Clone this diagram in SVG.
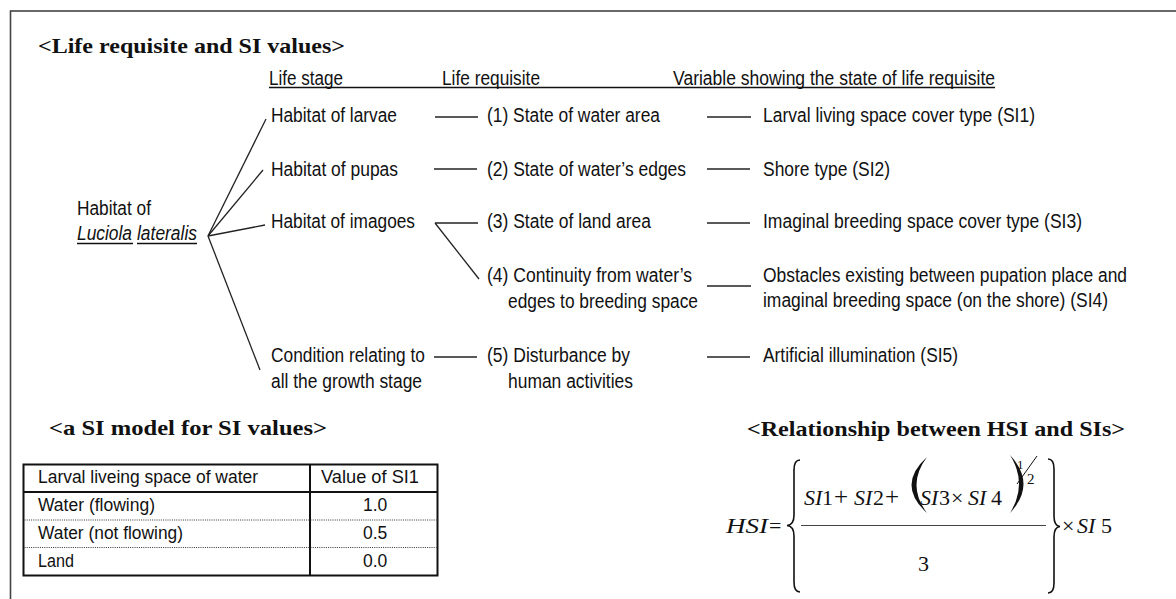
<svg xmlns="http://www.w3.org/2000/svg" width="1176" height="599" viewBox="0 0 1176 599">
<style>
.s{font-family:"Liberation Sans",Arial,sans-serif;font-size:20px;fill:#111}
.t{font-family:"Liberation Sans",Arial,sans-serif;font-size:17.5px;fill:#111}
.h{font-family:"Liberation Serif","Times New Roman",serif;font-size:21px;font-weight:bold;fill:#111}
.m{font-family:"Liberation Serif","Times New Roman",serif;font-size:22px;fill:#111}
.i{font-style:italic}
.c{stroke:#222;stroke-width:1.3;fill:none}
.u{stroke:#111;stroke-width:1.6}
.b{stroke:#111;stroke-width:2;fill:none}
.d{stroke:#333;stroke-width:1;stroke-dasharray:1 1.2}
.br{stroke:#111;stroke-width:1.6;fill:none}
</style>
<rect x="10.5" y="11" width="1200" height="620" fill="none" stroke="#444" stroke-width="1.6"/>

<g id="titles">
<text class="h" x="38" y="53" textLength="307" lengthAdjust="spacingAndGlyphs">&lt;Life requisite and SI values&gt;</text>
<text class="h" x="49" y="435" textLength="278" lengthAdjust="spacingAndGlyphs">&lt;a SI model for SI values&gt;</text>
<text class="h" x="747" y="436" textLength="378" lengthAdjust="spacingAndGlyphs">&lt;Relationship between HSI and SIs&gt;</text>
</g>

<g id="headers">
<text class="s" x="269" y="85" textLength="74" lengthAdjust="spacingAndGlyphs">Life stage</text>
<text class="s" x="442" y="85" textLength="98" lengthAdjust="spacingAndGlyphs">Life requisite</text>
<text class="s" x="673" y="85" textLength="322" lengthAdjust="spacingAndGlyphs">Variable showing the state of life requisite</text>
<line class="u" x1="269" y1="87.5" x2="995" y2="87.5"/>
</g>

<g id="root">
<text class="s" x="77" y="215" textLength="74" lengthAdjust="spacingAndGlyphs">Habitat of</text>
<text class="s i" x="77" y="240" textLength="55" lengthAdjust="spacingAndGlyphs">Luciola</text>
<text class="s i" x="137" y="240" textLength="60" lengthAdjust="spacingAndGlyphs">lateralis</text>
<line class="u" x1="77" y1="243.5" x2="133" y2="243.5"/>
<line class="u" x1="137" y1="243.5" x2="197" y2="243.5"/>
</g>

<g id="stage-larvae"><text class="s" x="271" y="122" textLength="126" lengthAdjust="spacingAndGlyphs">Habitat of larvae</text></g>
<g id="stage-pupas"><text class="s" x="271" y="176" textLength="127" lengthAdjust="spacingAndGlyphs">Habitat of pupas</text></g>
<g id="stage-imagoes"><text class="s" x="271" y="228" textLength="144" lengthAdjust="spacingAndGlyphs">Habitat of imagoes</text></g>
<g id="stage-condition">
<text class="s" x="271" y="362" textLength="154" lengthAdjust="spacingAndGlyphs">Condition relating to</text>
<text class="s" x="271" y="388" textLength="151" lengthAdjust="spacingAndGlyphs">all the growth stage</text>
</g>

<g id="req-1"><text class="s" x="487" y="122" textLength="173" lengthAdjust="spacingAndGlyphs">(1) State of water area</text></g>
<g id="req-2"><text class="s" x="487" y="176" textLength="199" lengthAdjust="spacingAndGlyphs">(2) State of water’s edges</text></g>
<g id="req-3"><text class="s" x="487" y="228" textLength="164" lengthAdjust="spacingAndGlyphs">(3) State of land area</text></g>
<g id="req-4">
<text class="s" x="487" y="282" textLength="205" lengthAdjust="spacingAndGlyphs">(4) Continuity from water’s</text>
<text class="s" x="508" y="308" textLength="190" lengthAdjust="spacingAndGlyphs">edges to breeding space</text>
</g>
<g id="req-5">
<text class="s" x="487" y="362" textLength="143" lengthAdjust="spacingAndGlyphs">(5) Disturbance by</text>
<text class="s" x="508" y="388" textLength="125" lengthAdjust="spacingAndGlyphs">human activities</text>
</g>

<g id="var-1"><text class="s" x="763" y="122" textLength="272" lengthAdjust="spacingAndGlyphs">Larval living space cover type (SI1)</text></g>
<g id="var-2"><text class="s" x="763" y="176" textLength="127" lengthAdjust="spacingAndGlyphs">Shore type (SI2)</text></g>
<g id="var-3"><text class="s" x="763" y="228" textLength="319" lengthAdjust="spacingAndGlyphs">Imaginal breeding space cover type (SI3)</text></g>
<g id="var-4">
<text class="s" x="763" y="282" textLength="364" lengthAdjust="spacingAndGlyphs">Obstacles existing between pupation place and</text>
<text class="s" x="763" y="307" textLength="345" lengthAdjust="spacingAndGlyphs">imaginal breeding space (on the shore) (SI4)</text>
</g>
<g id="var-5"><text class="s" x="763" y="362" textLength="195" lengthAdjust="spacingAndGlyphs">Artificial illumination (SI5)</text></g>

<g id="connectors">
<line class="c" x1="208" y1="236" x2="266" y2="119"/>
<line class="c" x1="208" y1="236" x2="263" y2="170"/>
<line class="c" x1="208" y1="236" x2="265" y2="225"/>
<line class="c" x1="208" y1="236" x2="260" y2="370"/>
<line class="c" x1="435" y1="117" x2="478" y2="117"/>
<line class="c" x1="434" y1="169" x2="477" y2="169"/>
<line class="c" x1="435" y1="223" x2="478" y2="223"/>
<line class="c" x1="435" y1="223" x2="479" y2="279"/>
<line class="c" x1="434" y1="357" x2="477" y2="357"/>
<line class="c" x1="707" y1="117" x2="751" y2="117"/>
<line class="c" x1="707" y1="169" x2="750" y2="169"/>
<line class="c" x1="707" y1="223" x2="750" y2="223"/>
<line class="c" x1="707" y1="286" x2="751" y2="286"/>
<line class="c" x1="707" y1="357" x2="750" y2="357"/>
</g>

<g id="si-table">
<rect class="b" x="23.5" y="464.5" width="414" height="111"/>
<line class="b" x1="310" y1="464.5" x2="310" y2="575.5"/>
<line class="b" x1="23.5" y1="492" x2="437.5" y2="492"/>
<line class="d" x1="24.5" y1="520" x2="436.5" y2="520"/>
<line class="d" x1="24.5" y1="547.5" x2="436.5" y2="547.5"/>
<text class="t" x="38" y="483" textLength="220" lengthAdjust="spacingAndGlyphs">Larval liveing space of water</text>
<text class="t" x="321" y="483" textLength="98" lengthAdjust="spacingAndGlyphs">Value of SI1</text>
<text class="t" x="38" y="511" textLength="117" lengthAdjust="spacingAndGlyphs">Water (flowing)</text>
<text class="t" x="363" y="511">1.0</text>
<text class="t" x="38" y="539" textLength="145" lengthAdjust="spacingAndGlyphs">Water (not flowing)</text>
<text class="t" x="363" y="539">0.5</text>
<text class="t" x="38" y="567" textLength="36" lengthAdjust="spacingAndGlyphs">Land</text>
<text class="t" x="363" y="567">0.0</text>
</g>

<g id="formula">
<text class="m i" x="726" y="533" textLength="42" lengthAdjust="spacingAndGlyphs">HSI</text>
<text class="m" x="769" y="533">=</text>
<path class="br" d="M800,460 Q794,460 794,470 L794,515 Q794,525 787,525.5 Q794,526 794,536 L794,582 Q794,592 800,592"/>
<text class="m i" x="804" y="505">SI</text>
<text class="m" x="822" y="505">1</text>
<text class="m" x="834" y="505" style="font-size:25px">+</text>
<text class="m i" x="854" y="505">SI</text>
<text class="m" x="873" y="505">2</text>
<text class="m" x="885" y="505" style="font-size:25px">+</text>
<path fill="#111" d="M927,457 Q896,485 927,513 Q906,485 927,457 Z"/>
<text class="m i" x="920" y="505">SI</text>
<text class="m" x="939" y="505">3</text>
<text class="m" x="951" y="505">×</text>
<text class="m i" x="968" y="505">SI</text>
<text class="m" x="991" y="505">4</text>
<path fill="#111" d="M1010,455 Q1037,484 1010,513 Q1028,484 1010,455 Z"/>
<text class="m" x="1017" y="469" style="font-size:13px">1</text>
<line x1="1017" y1="484" x2="1037" y2="456" stroke="#111" stroke-width="1"/>
<text class="m" x="1027" y="484" style="font-size:15px">2</text>
<line x1="801" y1="525.5" x2="1046" y2="525.5" stroke="#444" stroke-width="1"/>
<text class="m" x="918" y="571">3</text>
<path class="br" d="M1048,459 Q1054,459 1054,469 L1054,516 Q1054,526 1060,526.5 Q1054,527 1054,537 L1054,583 Q1054,593 1048,593"/>
<text class="m" x="1062" y="533">×</text>
<text class="m i" x="1077" y="533">SI</text>
<text class="m" x="1101" y="533">5</text>
</g>
</svg>
